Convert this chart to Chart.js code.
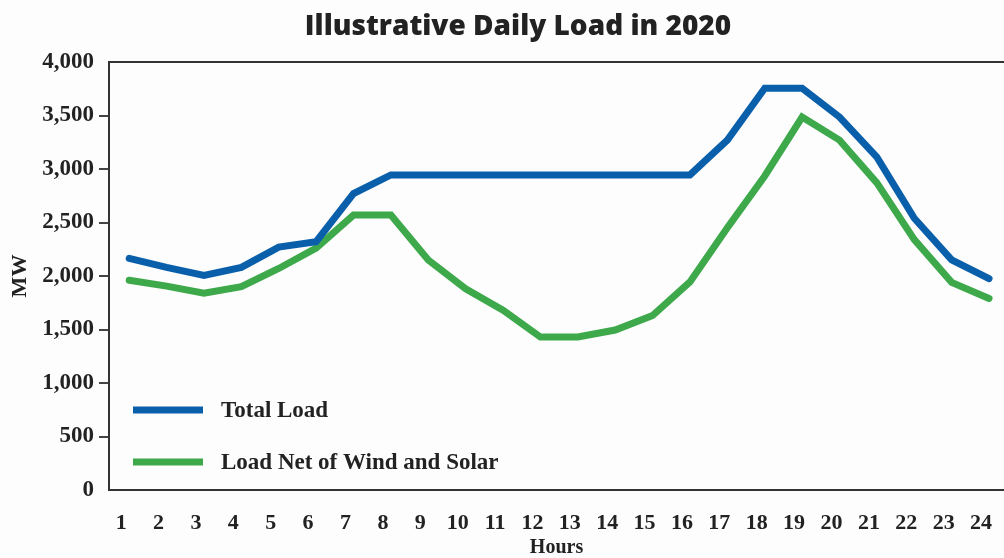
<!DOCTYPE html>
<html>
<head>
<meta charset="utf-8">
<script src="https://cdn.jsdelivr.net/npm/chart.js@4"></script>
<style>
  html, body { margin: 0; padding: 0; background: #fdfdfd; }
  #wrap { width: 1004px; height: 558px; }
</style>
</head>
<body>
<div id="wrap"><canvas id="loadChart" width="1004" height="558"></canvas></div>
<script>
const hours = [1, 2, 3, 4, 5, 6, 7, 8, 9, 10, 11, 12, 13, 14, 15, 16, 17, 18, 19, 20, 21, 22, 23, 24];
const totalLoad = [2165, 2080, 2005, 2080, 2270, 2320, 2770, 2945, 2945, 2945, 2945, 2945, 2945, 2945, 2945, 2945, 3270, 3755, 3755, 3485, 3110, 2540, 2150, 1975];
const netLoad = [1960, 1905, 1840, 1900, 2070, 2260, 2570, 2570, 2150, 1880, 1680, 1430, 1430, 1495, 1630, 1945, 2450, 2935, 3485, 3270, 2870, 2340, 1940, 1790];
const yTicks = [0, 500, 1000, 1500, 2000, 2500, 3000, 3500, 4000];

const seriesNames = ['Total Load', 'Load Net of Wind and Solar'];
const seriesColors = ['#0a5fab', '#3ea94b'];
const chartTitle = 'Illustrative Daily Load in 2020';

const serif = '"Liberation Serif", "DejaVu Serif", serif';

// title, top border and in-plot legend
const decorations = {
    id: 'decorations',
    afterDraw(chart) {
        const ctx = chart.ctx;
        const area = chart.chartArea;
        ctx.save();

        ctx.fillStyle = '#222';
        ctx.font = '800 28px "Open Sans", sans-serif';
        ctx.textAlign = 'center';
        ctx.textBaseline = 'middle';
        ctx.fillText(chartTitle, 518, 27);

        ctx.strokeStyle = '#333';
        ctx.lineWidth = 2;
        ctx.beginPath();
        ctx.moveTo(area.left, area.top);
        ctx.lineTo(area.right, area.top);
        ctx.stroke();

        ctx.textAlign = 'left';
        ctx.font = 'bold 23px ' + serif;
        chart.data.datasets.forEach((ds, i) => {
            const y = area.top + 348 + i * 52;
            ctx.strokeStyle = ds.borderColor;
            ctx.lineWidth = 7;
            ctx.lineCap = 'butt';
            ctx.beginPath();
            ctx.moveTo(area.left + 24, y);
            ctx.lineTo(area.left + 94, y);
            ctx.stroke();
            ctx.fillStyle = '#222';
            ctx.fillText(ds.label, area.left + 112, y + 1);
        });
        ctx.restore();
    }
};

const ctx = document.getElementById('loadChart').getContext('2d');
new Chart(ctx, {
    type: 'line',
    data: {
        datasets: [
            {
                label: seriesNames[0],
                data: hours.map((h, i) => ({ x: h, y: totalLoad[i] })),
                borderColor: seriesColors[0],
                borderWidth: 7,
                pointRadius: 0,
                tension: 0,
                borderCapStyle: 'round'
            },
            {
                label: seriesNames[1],
                data: hours.map((h, i) => ({ x: h, y: netLoad[i] })),
                borderColor: seriesColors[1],
                borderWidth: 7,
                pointRadius: 0,
                tension: 0,
                borderCapStyle: 'round'
            }
        ]
    },
    options: {
        responsive: false,
        animation: false,
        layout: { padding: { top: 62, right: 0, left: 0, bottom: 0 } },
        plugins: {
            legend: { display: false },
            title: { display: false },
            tooltip: { enabled: false }
        },
        scales: {
            x: {
                type: 'linear',
                min: 0.46,
                max: 24.4,
                afterFit: (scale) => {
                    scale.height = 68;
                    scale.paddingLeft = 0;
                    scale.paddingRight = 0;
                },
                afterBuildTicks: (scale) => { scale.ticks = hours.map(h => ({ value: h })); },
                ticks: {
                    includeBounds: false,
                    maxRotation: 0,
                    padding: 20,
                    labelOffset: -8,
                    color: '#222',
                    font: { family: serif, size: 22, weight: 'bold' },
                    callback: (v) => String(v)
                },
                grid: { display: true, drawOnChartArea: false, drawTicks: false, color: 'transparent' },
                border: { display: true, color: '#333', width: 2 },
                title: {
                    display: true,
                    text: 'Hours',
                    color: '#222',
                    font: { family: serif, size: 20, weight: 'bold', lineHeight: 1 },
                    padding: { top: 0, bottom: 0 }
                }
            },
            y: {
                min: 0,
                max: 4000,
                afterFit: (scale) => { scale.width = 109; },
                afterBuildTicks: (scale) => { scale.ticks = yTicks.map(v => ({ value: v })); },
                ticks: {
                    padding: 5,
                    color: '#222',
                    font: { family: serif, size: 23, weight: 'bold' },
                    callback: (v) => v.toLocaleString('en-US')
                },
                grid: {
                    drawOnChartArea: false,
                    tickLength: 10,
                    lineWidth: 2,
                    color: (c) => (c.tick && (c.tick.value === 0 || c.tick.value === 4000)) ? 'transparent' : '#444'
                },
                border: { display: true, color: '#333', width: 2 },
                title: {
                    display: true,
                    text: 'MW',
                    color: '#222',
                    font: { family: serif, size: 22, weight: 'bold' },
                    padding: { top: 7, bottom: 0 }
                }
            }
        }
    },
    plugins: [decorations]
});
</script>
</body>
</html>
